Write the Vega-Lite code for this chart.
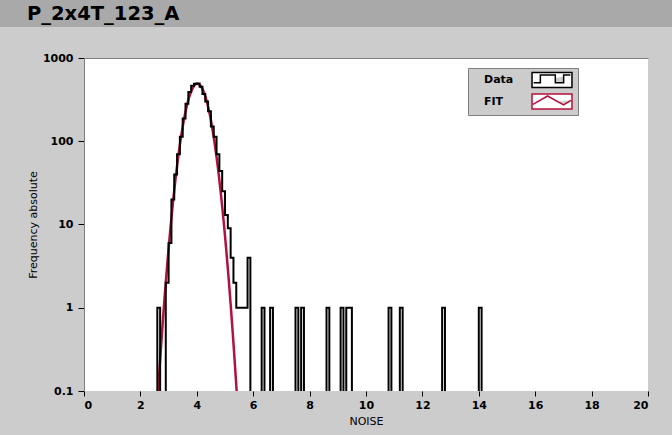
{
  "$schema": "https://vega.github.io/schema/vega-lite/v6.json",
  "background": "#cccccc",
  "padding": {"left": 0, "top": 0, "right": 0, "bottom": 14},
  "config": {"font": "DejaVu Sans", "view": {"stroke": null}},
  "spacing": 25,
  "datasets": {
    "hist": [
      {"series": "Data", "x": 0, "count": 0.01},
      {"series": "Data", "x": 2.6, "count": 1},
      {"series": "Data", "x": 2.7, "count": 0.01},
      {"series": "Data", "x": 2.9, "count": 2},
      {"series": "Data", "x": 3.0, "count": 6},
      {"series": "Data", "x": 3.1, "count": 20},
      {"series": "Data", "x": 3.2, "count": 40},
      {"series": "Data", "x": 3.3, "count": 70},
      {"series": "Data", "x": 3.4, "count": 113},
      {"series": "Data", "x": 3.5, "count": 187},
      {"series": "Data", "x": 3.6, "count": 282},
      {"series": "Data", "x": 3.7, "count": 390},
      {"series": "Data", "x": 3.8, "count": 465},
      {"series": "Data", "x": 3.9, "count": 490},
      {"series": "Data", "x": 4.0, "count": 495},
      {"series": "Data", "x": 4.1, "count": 450},
      {"series": "Data", "x": 4.2, "count": 370},
      {"series": "Data", "x": 4.3, "count": 300},
      {"series": "Data", "x": 4.4, "count": 230},
      {"series": "Data", "x": 4.5, "count": 150},
      {"series": "Data", "x": 4.6, "count": 113},
      {"series": "Data", "x": 4.7, "count": 70},
      {"series": "Data", "x": 4.8, "count": 44},
      {"series": "Data", "x": 4.9, "count": 25},
      {"series": "Data", "x": 5.0, "count": 13},
      {"series": "Data", "x": 5.1, "count": 9},
      {"series": "Data", "x": 5.2, "count": 4},
      {"series": "Data", "x": 5.3, "count": 2},
      {"series": "Data", "x": 5.4, "count": 1},
      {"series": "Data", "x": 5.8, "count": 4},
      {"series": "Data", "x": 5.9, "count": 0.01},
      {"series": "Data", "x": 6.3, "count": 1},
      {"series": "Data", "x": 6.4, "count": 0.01},
      {"series": "Data", "x": 6.6, "count": 1},
      {"series": "Data", "x": 6.7, "count": 0.01},
      {"series": "Data", "x": 7.5, "count": 1},
      {"series": "Data", "x": 7.6, "count": 0.01},
      {"series": "Data", "x": 7.7, "count": 1},
      {"series": "Data", "x": 7.8, "count": 0.01},
      {"series": "Data", "x": 8.6, "count": 1},
      {"series": "Data", "x": 8.7, "count": 0.01},
      {"series": "Data", "x": 9.1, "count": 1},
      {"series": "Data", "x": 9.2, "count": 0.01},
      {"series": "Data", "x": 9.3, "count": 1},
      {"series": "Data", "x": 9.5, "count": 0.01},
      {"series": "Data", "x": 10.8, "count": 1},
      {"series": "Data", "x": 10.9, "count": 0.01},
      {"series": "Data", "x": 11.2, "count": 1},
      {"series": "Data", "x": 11.3, "count": 0.01},
      {"series": "Data", "x": 12.7, "count": 1},
      {"series": "Data", "x": 12.8, "count": 0.01},
      {"series": "Data", "x": 14.0, "count": 1},
      {"series": "Data", "x": 14.1, "count": 0.01},
      {"series": "Data", "x": 20, "count": 0.01}
    ],
    "fit": [
      {"series": "FIT", "x": 2.55, "count": 0.0381},
      {"series": "FIT", "x": 2.60, "count": 0.0718},
      {"series": "FIT", "x": 2.65, "count": 0.132},
      {"series": "FIT", "x": 2.70, "count": 0.238},
      {"series": "FIT", "x": 2.75, "count": 0.420},
      {"series": "FIT", "x": 2.80, "count": 0.724},
      {"series": "FIT", "x": 2.85, "count": 1.222},
      {"series": "FIT", "x": 2.90, "count": 2.018},
      {"series": "FIT", "x": 2.95, "count": 3.258},
      {"series": "FIT", "x": 3.00, "count": 5.148},
      {"series": "FIT", "x": 3.05, "count": 7.96},
      {"series": "FIT", "x": 3.10, "count": 12.05},
      {"series": "FIT", "x": 3.15, "count": 17.82},
      {"series": "FIT", "x": 3.20, "count": 25.79},
      {"series": "FIT", "x": 3.25, "count": 36.52},
      {"series": "FIT", "x": 3.30, "count": 50.62},
      {"series": "FIT", "x": 3.35, "count": 68.6},
      {"series": "FIT", "x": 3.40, "count": 91.0},
      {"series": "FIT", "x": 3.45, "count": 118.1},
      {"series": "FIT", "x": 3.50, "count": 149.9},
      {"series": "FIT", "x": 3.55, "count": 186.2},
      {"series": "FIT", "x": 3.60, "count": 226.2},
      {"series": "FIT", "x": 3.65, "count": 269.0},
      {"series": "FIT", "x": 3.70, "count": 312.8},
      {"series": "FIT", "x": 3.75, "count": 355.9},
      {"series": "FIT", "x": 3.80, "count": 396.3},
      {"series": "FIT", "x": 3.85, "count": 431.5},
      {"series": "FIT", "x": 3.90, "count": 459.8},
      {"series": "FIT", "x": 3.95, "count": 479.4},
      {"series": "FIT", "x": 4.00, "count": 489.1},
      {"series": "FIT", "x": 4.05, "count": 488.1},
      {"series": "FIT", "x": 4.10, "count": 476.4},
      {"series": "FIT", "x": 4.15, "count": 455.0},
      {"series": "FIT", "x": 4.20, "count": 425.0},
      {"series": "FIT", "x": 4.25, "count": 388.5},
      {"series": "FIT", "x": 4.30, "count": 347.4},
      {"series": "FIT", "x": 4.35, "count": 304.1},
      {"series": "FIT", "x": 4.40, "count": 260.3},
      {"series": "FIT", "x": 4.45, "count": 218.0},
      {"series": "FIT", "x": 4.50, "count": 178.6},
      {"series": "FIT", "x": 4.55, "count": 143.2},
      {"series": "FIT", "x": 4.60, "count": 112.3},
      {"series": "FIT", "x": 4.65, "count": 86.1},
      {"series": "FIT", "x": 4.70, "count": 64.7},
      {"series": "FIT", "x": 4.75, "count": 47.5},
      {"series": "FIT", "x": 4.80, "count": 34.13},
      {"series": "FIT", "x": 4.85, "count": 23.99},
      {"series": "FIT", "x": 4.90, "count": 16.50},
      {"series": "FIT", "x": 4.95, "count": 11.10},
      {"series": "FIT", "x": 5.00, "count": 7.31},
      {"series": "FIT", "x": 5.05, "count": 4.707},
      {"series": "FIT", "x": 5.10, "count": 2.966},
      {"series": "FIT", "x": 5.15, "count": 1.828},
      {"series": "FIT", "x": 5.20, "count": 1.102},
      {"series": "FIT", "x": 5.25, "count": 0.650},
      {"series": "FIT", "x": 5.30, "count": 0.3755},
      {"series": "FIT", "x": 5.35, "count": 0.2120},
      {"series": "FIT", "x": 5.40, "count": 0.1172},
      {"series": "FIT", "x": 5.45, "count": 0.0633},
      {"series": "FIT", "x": 5.50, "count": 0.0335}
    ]
  },
  "vconcat": [
    {
      "width": 588,
      "height": 27,
      "view": {"fill": "#a9a9a9", "stroke": null},
      "data": {"values": []},
      "mark": "point",
      "encoding": {
        "y": {
          "field": "v", "type": "quantitative", "scale": {"domain": [0, 1]},
          "axis": {
            "labels": false, "ticks": false, "grid": false, "translate": 0,
            "domainColor": "#a9a9a9", "domainWidth": 168, "offset": 84,
            "title": "P_2x4T_123_A", "titleAngle": 0, "titleAlign": "left", "titleBaseline": "alphabetic",
            "titleX": 27, "titleY": 20, "titleFont": "DejaVu Sans", "titleFontSize": 19.5, "titleFontWeight": "bold", "titleColor": "#000000"
          }
        }
      }
    },
    {
      "width": 564,
      "height": 333,
      "view": {"fill": "#ffffff", "stroke": null},
      "encoding": {
        "y": {
          "field": "count", "type": "quantitative",
          "scale": {"type": "log", "domain": [0.1, 1000], "nice": false},
          "axis": {
            "values": [0.1, 1, 10, 100, 1000], "format": "~g",
            "grid": false, "domainColor": "#808080", "domainWidth": 1,
            "tickColor": "#000000", "tickSize": 6, "labelPadding": 5,
            "labelFont": "DejaVu Sans", "labelFontSize": 11, "labelFontWeight": "bold", "labelColor": "#000000",
            "title": "Frequency absolute", "titleFont": "DejaVu Sans", "titleFontSize": 11, "titleFontWeight": "normal", "titleColor": "#000000",
            "titleX": -46
          }
        },
        "color": {
          "field": "series", "type": "nominal",
          "scale": {"domain": ["Data", "FIT"], "range": ["#000000", "#b3113d"]},
          "legend": {
            "orient": "none", "legendX": 384, "legendY": 68, "title": null,
            "fillColor": "#cccccc", "strokeColor": "#808080", "padding": 2.5,
            "symbolSize": 289, "symbolOffset": 72, "labelOffset": -77.5, "rowPadding": 0.5,
            "symbolStrokeWidth": 1.5,
            "labelFont": "DejaVu Sans", "labelFontSize": 11, "labelFontWeight": "bold", "labelColor": "#000000",
            "encode": {
              "symbols": {
                "update": {
                  "shape": {"signal": "datum.value === 'Data' ? 'M-2.35,-0.88H2.35V0.88H-2.35ZM-2.16,0.32L-1.37,0.32L-1.37,-0.59L0.39,-0.59L0.39,0.32L1.37,0.32L1.37,-0.59L2.16,-0.59' : 'M-2.35,-0.88H2.35V0.88H-2.35ZM-2.24,0.33L-0.52,-0.65L1.36,0.41L2.24,-0.14'"},
                  "fill": {"value": "#ffffff"},
                  "fillOpacity": {"value": 1}
                }
              }
            }
          }
        }
      },
      "layer": [
        {
          "data": {"name": "fit"},
          "mark": {"type": "line", "strokeWidth": 2.5, "clip": true, "interpolate": "monotone"},
          "encoding": {
            "x": {
              "field": "x", "type": "quantitative",
              "scale": {"domain": [0, 20], "nice": false},
              "axis": {"orient": "top", "labels": false, "ticks": false, "title": null, "grid": false, "domainColor": "#808080", "domainWidth": 1}
            }
          }
        },
        {
          "data": {"name": "hist"},
          "mark": {"type": "line", "strokeWidth": 2, "clip": true, "interpolate": "step-after"},
          "encoding": {
            "x": {
              "field": "x", "type": "quantitative",
              "scale": {"domain": [0, 20], "nice": false},
              "axis": {
                "orient": "bottom", "values": [0, 2, 4, 6, 8, 10, 12, 14, 16, 18, 20], "grid": false, "domain": false,
                "tickColor": "#000000", "tickSize": 5, "labelPadding": 3,
                "labelFont": "DejaVu Sans", "labelFontSize": 11, "labelFontWeight": "bold", "labelColor": "#000000",
                "title": "NOISE", "titleFont": "DejaVu Sans", "titleFontSize": 11, "titleFontWeight": "normal", "titleColor": "#000000", "titlePadding": 5
              }
            }
          }
        }
      ],
      "resolve": {"axis": {"x": "independent"}}
    }
  ]
}
